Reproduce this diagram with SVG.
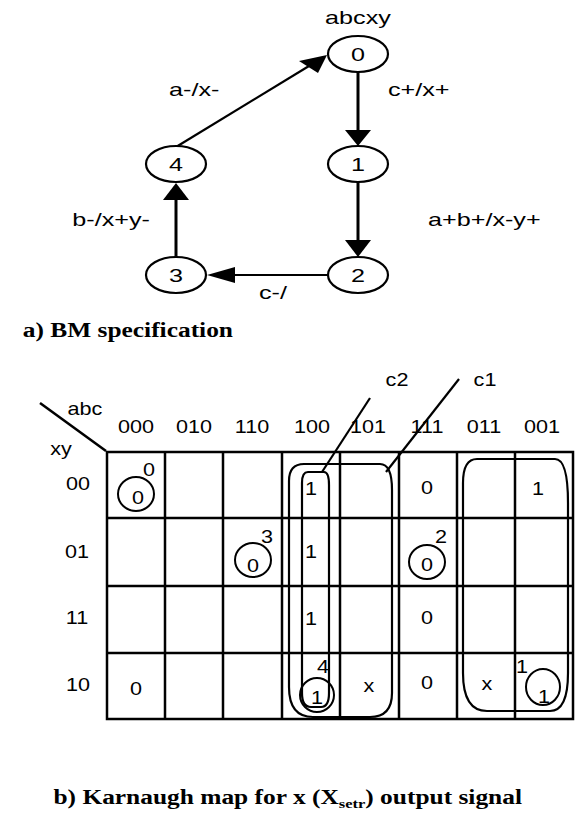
<svg xmlns="http://www.w3.org/2000/svg" width="579" height="817" viewBox="0 0 579 817">
<style>
.n{fill:#fff;stroke:#000;stroke-width:2.2}
.g{font-family:"Liberation Sans",Arial,sans-serif;font-size:18px;fill:#000}
.k{font-family:"Liberation Sans",Arial,sans-serif;font-size:18px;fill:#000;text-anchor:middle}
.m{text-anchor:middle}
.e{text-anchor:end}
.t{font-family:"Liberation Serif","Times New Roman",serif;font-size:20px;font-weight:bold;fill:#000;text-anchor:end}
.ln{stroke:#000;fill:none}
.hd{fill:#000;stroke:none}
.grid{stroke:#000;stroke-width:2.5;fill:none}
.loop{stroke:#000;stroke-width:2.2;fill:none}
.ring{stroke:#000;stroke-width:2;fill:none}
</style>
<rect width="579" height="817" fill="#fff"/>

<!-- part a: BM specification -->
<text class="g m" transform="translate(358,24) scale(1.4,1)">abcxy</text>

<g id="connectors">
  <line class="ln" x1="358" y1="72" x2="358" y2="131" stroke-width="3"/>
  <polygon class="hd" points="345,130 371,130 358,146"/>
  <line class="ln" x1="358" y1="182" x2="358" y2="241" stroke-width="3"/>
  <polygon class="hd" points="345,240 371,240 358,257"/>
  <line class="ln" x1="176" y1="257" x2="176" y2="199" stroke-width="3"/>
  <polygon class="hd" points="163,200 189,200 176,183"/>
  <line class="ln" x1="328" y1="275" x2="234" y2="275" stroke-width="2"/>
  <polygon class="hd" points="235,267 235,283 207,275"/>
  <line class="ln" x1="176" y1="147" x2="309" y2="66" stroke-width="2.2"/>
  <polygon class="hd" points="327,55 318,73 299,61"/>
  <text class="g" transform="translate(169,96) scale(1.4,1)">a-/x-</text>
  <text class="g" transform="translate(388,96) scale(1.4,1)">c+/x+</text>
  <text class="g" transform="translate(428,226) scale(1.4,1)">a+b+/x-y+</text>
  <text class="g e" transform="translate(150,226) scale(1.4,1)">b-/x+y-</text>
  <text class="g" transform="translate(259,299) scale(1.4,1)">c-/</text>
</g>

<g id="node0">
  <ellipse class="n" cx="358" cy="54" rx="30" ry="18"/>
  <text class="g m" transform="translate(358,60.5) scale(1.4,1)">0</text>
</g>
<g id="node1">
  <ellipse class="n" cx="358" cy="164" rx="30" ry="18"/>
  <text class="g m" transform="translate(358,170.5) scale(1.4,1)">1</text>
</g>
<g id="node2">
  <ellipse class="n" cx="358" cy="275" rx="30" ry="18"/>
  <text class="g m" transform="translate(358,281.5) scale(1.4,1)">2</text>
</g>
<g id="node3">
  <ellipse class="n" cx="176" cy="275" rx="30" ry="18"/>
  <text class="g m" transform="translate(176,281.5) scale(1.4,1)">3</text>
</g>
<g id="node4">
  <ellipse class="n" cx="176" cy="164" rx="30" ry="18"/>
  <text class="g m" transform="translate(176,170.5) scale(1.4,1)">4</text>
</g>

<text class="t" transform="translate(233,337) scale(1.27,1)">a) BM specification</text>

<!-- part b: Karnaugh map -->
<g id="kmap">
  <line class="ln" x1="40" y1="403" x2="106" y2="451" stroke-width="2.5"/>
  <text class="k" transform="translate(85,415) scale(1.2,1)">abc</text>
  <text class="k" transform="translate(61,455) scale(1.2,1)">xy</text>

  <g id="col-headers">
    <text class="k" transform="translate(136,433) scale(1.2,1)">000</text>
    <text class="k" transform="translate(194,433) scale(1.2,1)">010</text>
    <text class="k" transform="translate(252,433) scale(1.2,1)">110</text>
    <text class="k" transform="translate(312,433) scale(1.2,1)">100</text>
    <text class="k" transform="translate(368,433) scale(1.2,1)">101</text>
    <text class="k" transform="translate(427,433) scale(1.2,1)">111</text>
    <text class="k" transform="translate(484,433) scale(1.2,1)">011</text>
    <text class="k" transform="translate(542,433) scale(1.2,1)">001</text>
  </g>
  <g id="row-headers">
    <text class="k" transform="translate(78,490) scale(1.2,1)">00</text>
    <text class="k" transform="translate(77,558) scale(1.2,1)">01</text>
    <text class="k" transform="translate(77,624) scale(1.2,1)">11</text>
    <text class="k" transform="translate(78,691) scale(1.2,1)">10</text>
  </g>

  <g id="grid" class="grid">
    <rect x="107" y="452" width="466" height="267"/>
    <line x1="165" y1="452" x2="165" y2="719"/>
    <line x1="223" y1="452" x2="223" y2="719"/>
    <line x1="282" y1="452" x2="282" y2="719"/>
    <line x1="340" y1="452" x2="340" y2="719"/>
    <line x1="399" y1="452" x2="399" y2="719"/>
    <line x1="457" y1="452" x2="457" y2="719"/>
    <line x1="515" y1="452" x2="515" y2="719"/>
    <line x1="107" y1="518" x2="573" y2="518"/>
    <line x1="107" y1="586" x2="573" y2="586"/>
    <line x1="107" y1="653" x2="573" y2="653"/>
  </g>

  <g id="cells">
    <text class="k" transform="translate(149,476) scale(1.2,1)">0</text>
    <ellipse class="ring" cx="136" cy="494" rx="18" ry="17"/>
    <text class="k" transform="translate(138,504) scale(1.2,1)">0</text>

    <text class="k" transform="translate(267,543) scale(1.2,1)">3</text>
    <ellipse class="ring" cx="253" cy="560" rx="18" ry="17"/>
    <text class="k" transform="translate(253,572) scale(1.2,1)">0</text>

    <text class="k" transform="translate(441,543) scale(1.2,1)">2</text>
    <ellipse class="ring" cx="427" cy="562" rx="18" ry="17"/>
    <text class="k" transform="translate(427,571) scale(1.2,1)">0</text>

    <text class="k" transform="translate(323,673) scale(1.2,1)">4</text>
    <ellipse class="ring" cx="317" cy="695" rx="17" ry="17"/>
    <text class="k" transform="translate(317,704) scale(1.2,1)">1</text>

    <text class="k" transform="translate(522,673) scale(1.2,1)">1</text>
    <ellipse class="ring" cx="543" cy="687" rx="17" ry="18"/>
    <text class="k" transform="translate(544,703) scale(1.2,1)">1</text>

    <text class="k" transform="translate(311,495) scale(1.2,1)">1</text>
    <text class="k" transform="translate(427,494) scale(1.2,1)">0</text>
    <text class="k" transform="translate(538,495) scale(1.2,1)">1</text>
    <text class="k" transform="translate(311,558) scale(1.2,1)">1</text>
    <text class="k" transform="translate(311,625) scale(1.2,1)">1</text>
    <text class="k" transform="translate(427,624) scale(1.2,1)">0</text>
    <text class="k" transform="translate(136,695) scale(1.2,1)">0</text>
    <text class="k" transform="translate(369,692) scale(1.2,1)">x</text>
    <text class="k" transform="translate(427,689) scale(1.2,1)">0</text>
    <text class="k" transform="translate(487,690) scale(1.2,1)">x</text>
  </g>

  <g id="loops" class="loop">
    <path d="M289,481 Q289,464 304,464 L380,464 Q392,464 392,490 L392,693 Q392,717 370,717 L313,717 Q289,717 289,687 Z"/>
    <path d="M302,483 Q302,472 308,472 L324,472 Q329,472 329,485 L329,693 Q329,707 321,707 L311,707 Q302,707 302,693 Z"/>
    <path d="M463,483 Q463,459 477,459 L555,459 Q568,459 568,503 L568,673 Q568,711 550,711 L487,711 Q463,711 463,673 Z"/>
  </g>

  <g id="loop-labels">
    <line class="ln" x1="322" y1="472" x2="370" y2="398" stroke-width="2.2"/>
    <line class="ln" x1="386" y1="472" x2="459" y2="379" stroke-width="2.2"/>
    <text class="k" transform="translate(397,386) scale(1.2,1)">c2</text>
    <text class="k" transform="translate(485,386) scale(1.2,1)">c1</text>
  </g>
</g>

<text class="t" transform="translate(522,804) scale(1.27,1)">b) Karnaugh map for x (X<tspan font-size="13" dy="4">setr</tspan><tspan dy="-4">) output signal</tspan></text>
</svg>
